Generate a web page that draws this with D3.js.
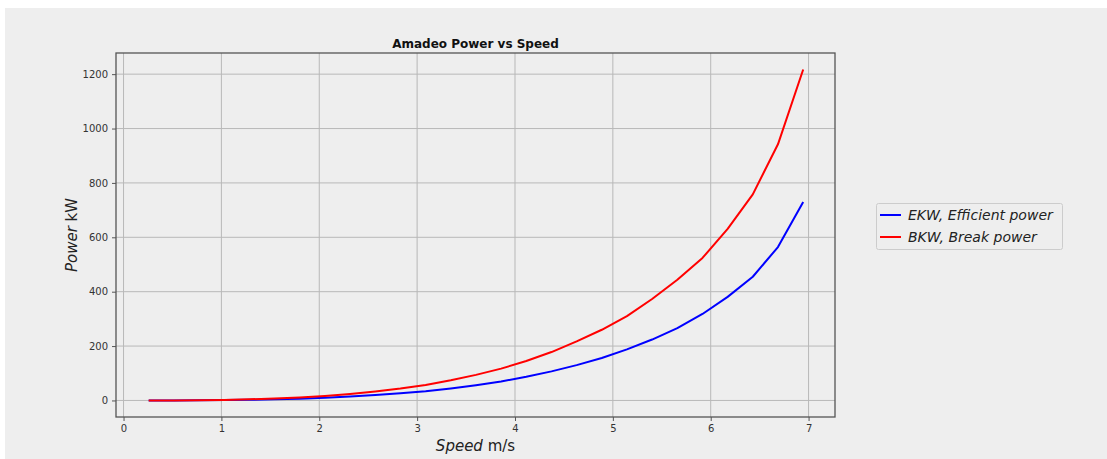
<!DOCTYPE html>
<html>
<head>
<meta charset="utf-8">
<script src="https://cdn.jsdelivr.net/npm/d3@7"></script>
<style>
  body { margin: 0; background: #fff; }
  svg { display: block; font-family: "DejaVu Sans", sans-serif; }
</style>
</head>
<body>
<div id="chart"></div>
<script>
// data
const speeds = [0.257, 0.514, 0.772, 1.029, 1.286, 1.543, 1.800, 2.058, 2.315, 2.572, 2.829, 3.087, 3.344, 3.601,
  3.858, 4.115, 4.373, 4.630, 4.887, 5.144, 5.401, 5.659, 5.916, 6.173, 6.430, 6.687, 6.945]
const efficientPower = [0.02, 0.16, 0.5, 1.3, 2.5, 4.3, 6.7, 10.1, 14.3, 19.7, 26.2, 34, 44, 56, 70, 87, 107, 130,
  156, 188, 224, 266, 318, 381, 455, 564, 730]
const breakPower = [0.04, 0.26, 0.9, 2.1, 4.1, 7.1, 11.2, 16.8, 23.9, 32.8, 43.6, 56.7, 74, 94, 117, 145, 178, 217,
  260, 310, 373, 444, 524, 631, 758, 942, 1217]
const xTicks = [0, 1, 2, 3, 4, 5, 6, 7]
const yTicks = [0, 200, 400, 600, 800, 1000, 1200]
const seriesNames = ['EKW, Efficient power', 'BKW, Break power']
const seriesColors = ['#0000ff', '#ff0000']

const width = 1107
const height = 459
const plot = { left: 116, right: 835, top: 53, bottom: 417 }

const svg = d3.select('#chart')
  .append('svg')
  .attr('width', width)
  .attr('height', height)

// figure background
svg.append('rect')
  .attr('x', 5).attr('y', 8)
  .attr('width', width - 5).attr('height', height - 8)
  .attr('fill', '#eeeeee')

const xScale = d3.scaleLinear()
  .domain([-0.077, 7.27])
  .range([plot.left, plot.right])

const yScale = d3.scaleLinear()
  .domain([-60.85, 1277.8])
  .range([plot.bottom, plot.top])

// grid
svg.append('g')
  .selectAll('line')
  .data(xTicks)
  .enter()
  .append('line')
  .attr('x1', d => xScale(d)).attr('x2', d => xScale(d))
  .attr('y1', plot.top).attr('y2', plot.bottom)
  .attr('stroke', '#b8b8b8')
  .attr('stroke-width', 1)

svg.append('g')
  .selectAll('line')
  .data(yTicks)
  .enter()
  .append('line')
  .attr('x1', plot.left).attr('x2', plot.right)
  .attr('y1', d => yScale(d)).attr('y2', d => yScale(d))
  .attr('stroke', '#b8b8b8')
  .attr('stroke-width', 1)

// axes
const xAxis = d3.axisBottom(xScale).tickValues(xTicks).tickSize(4).tickPadding(4).tickFormat(d3.format('d'))
const yAxis = d3.axisLeft(yScale).tickValues(yTicks).tickSize(4).tickPadding(4).tickFormat(d3.format('d'))

const gx = svg.append('g')
  .attr('transform', `translate(0, ${plot.bottom})`)
  .call(xAxis)
const gy = svg.append('g')
  .attr('transform', `translate(${plot.left}, 0)`)
  .call(yAxis)

;[gx, gy].forEach(g => {
  g.select('.domain').remove()
  g.selectAll('.tick line').attr('stroke', '#555')
  g.selectAll('.tick text')
    .attr('fill', '#333')
    .attr('font-size', 10)
    .attr('font-family', 'DejaVu Sans')
})

// lines
const lineGen = d3.line()
  .x((d, i) => xScale(speeds[i]))
  .y(d => yScale(d))

svg.append('g')
  .selectAll('path')
  .data([efficientPower, breakPower])
  .enter()
  .append('path')
  .attr('d', d => lineGen(d))
  .attr('fill', 'none')
  .attr('stroke', (d, i) => seriesColors[i])
  .attr('stroke-width', 2)
  .attr('stroke-linejoin', 'round')

// frame
svg.append('rect')
  .attr('x', plot.left).attr('y', plot.top)
  .attr('width', plot.right - plot.left).attr('height', plot.bottom - plot.top)
  .attr('fill', 'none')
  .attr('stroke', '#555')
  .attr('stroke-width', 1.3)

// title
svg.append('text')
  .attr('x', (plot.left + plot.right) / 2)
  .attr('y', 48)
  .attr('text-anchor', 'middle')
  .attr('font-size', 12)
  .attr('font-weight', 'bold')
  .attr('fill', '#111')
  .text('Amadeo Power vs Speed')

// axis labels
const xLabel = svg.append('text')
  .attr('x', (plot.left + plot.right) / 2)
  .attr('y', 451)
  .attr('text-anchor', 'middle')
  .attr('font-size', 15)
  .attr('fill', '#222')
xLabel.append('tspan').attr('font-style', 'italic').text('Speed')
xLabel.append('tspan').text(' m/s')

const yLabel = svg.append('text')
  .attr('transform', `translate(77, ${(plot.top + plot.bottom) / 2}) rotate(-90)`)
  .attr('text-anchor', 'middle')
  .attr('font-size', 15)
  .attr('fill', '#222')
yLabel.append('tspan').attr('font-style', 'italic').text('Power')
yLabel.append('tspan').text(' kW')

// legend
const legend = svg.append('g').attr('id', 'legend')
legend.append('rect')
  .attr('x', 876.5).attr('y', 203.5)
  .attr('width', 186).attr('height', 46)
  .attr('rx', 2)
  .attr('fill', '#eeeeee')
  .attr('stroke', '#cccccc')
  .attr('stroke-width', 1)

seriesNames.forEach((name, i) => {
  const y = 215 + i * 22
  legend.append('line')
    .attr('x1', 880).attr('x2', 901)
    .attr('y1', y).attr('y2', y)
    .attr('stroke', seriesColors[i])
    .attr('stroke-width', 2)
  legend.append('text')
    .attr('x', 908)
    .attr('y', y + 5)
    .attr('font-size', 14)
    .attr('font-style', 'italic')
    .attr('fill', '#222')
    .text(name)
})
</script>
</body>
</html>
